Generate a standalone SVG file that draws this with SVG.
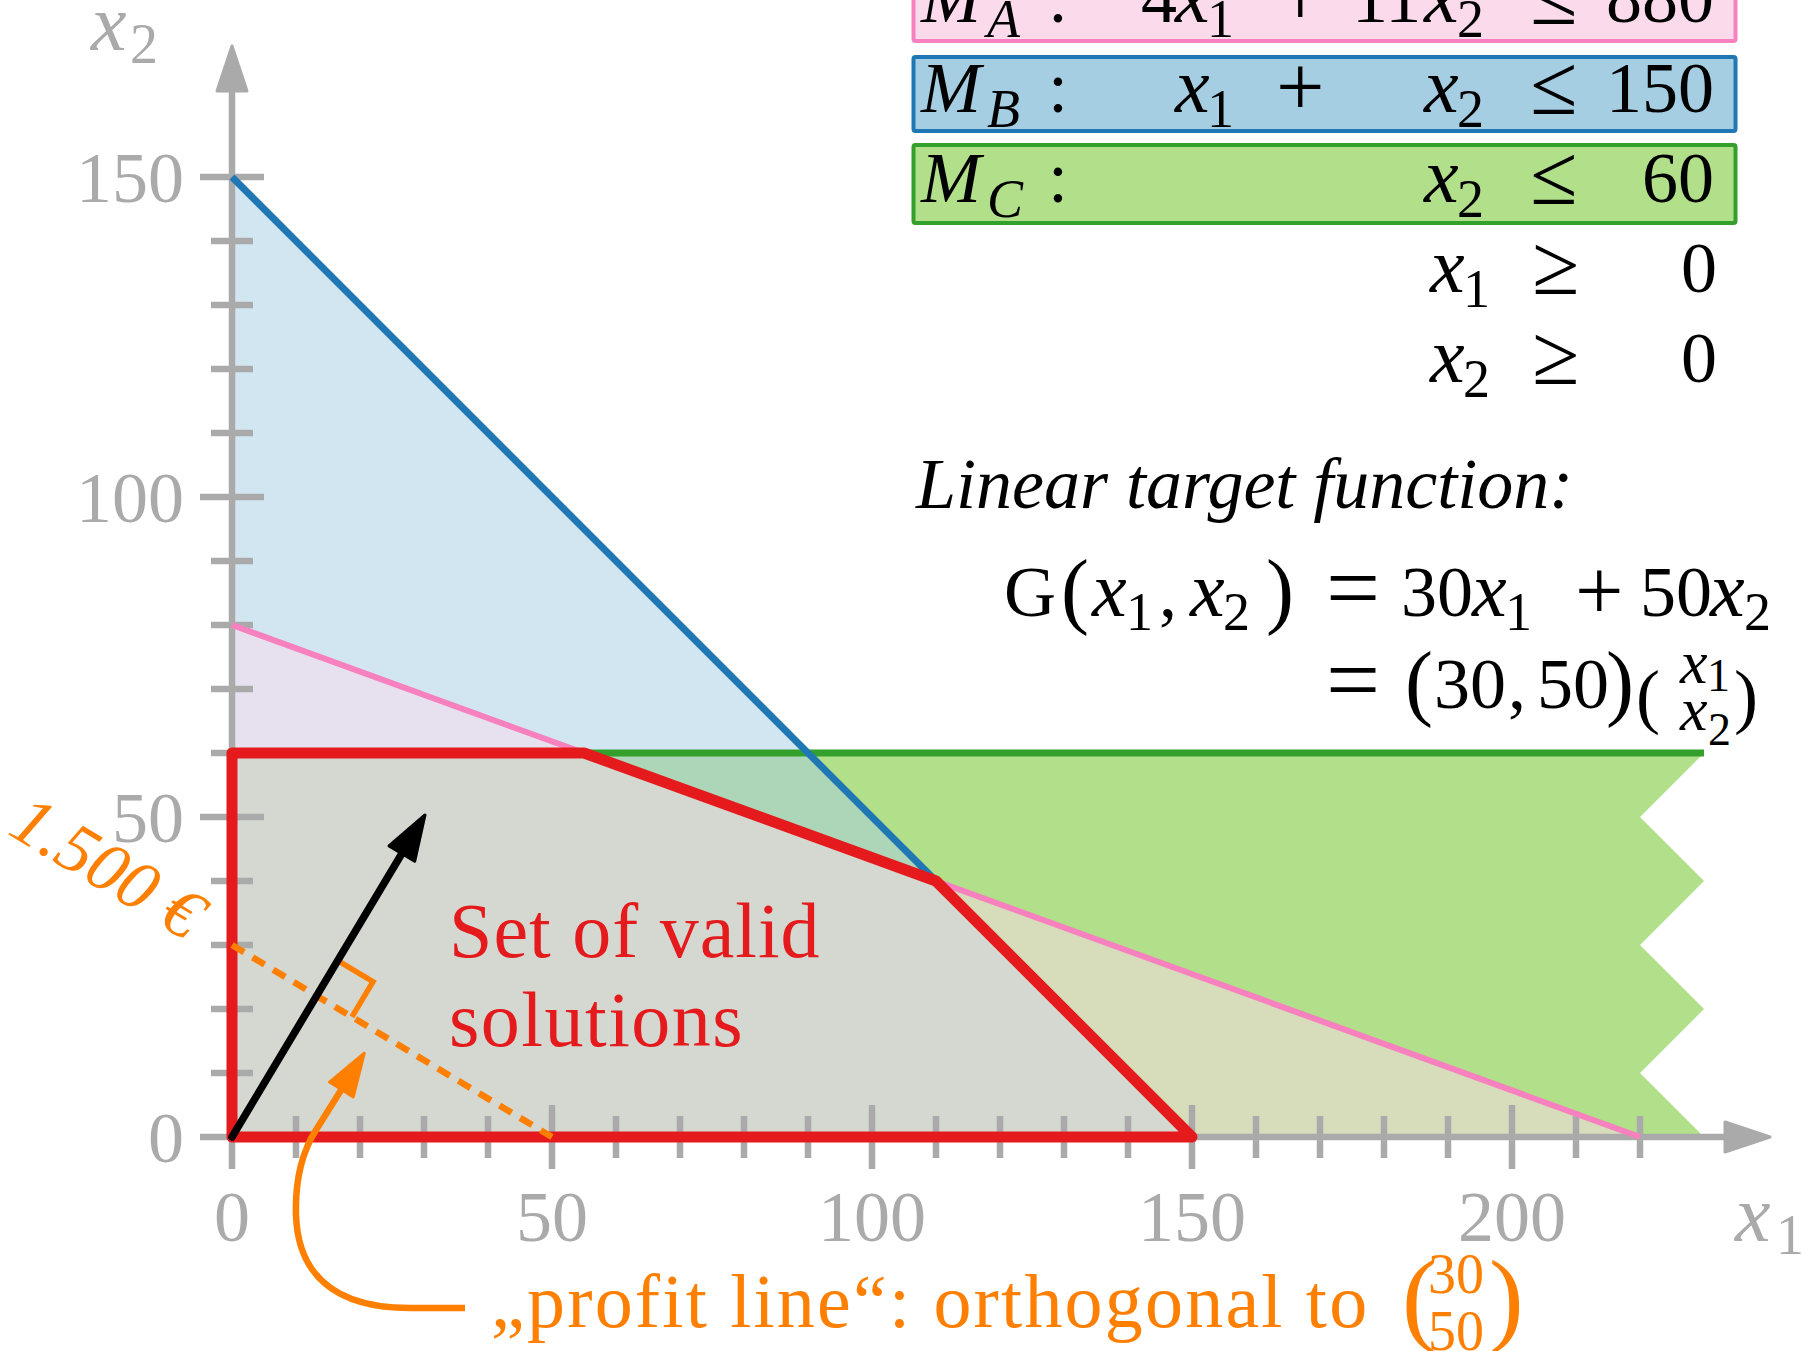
<svg xmlns="http://www.w3.org/2000/svg" width="1802" height="1351" viewBox="0 0 1802 1351">
<style>
.ax{stroke:#aaa;stroke-width:6.5;fill:none}
.gl{font-family:"Liberation Serif",serif;fill:#aaa;font-size:72px}
.m{font-family:"Liberation Serif",serif;font-size:72px;fill:#000}
.i{font-style:italic}
.v{font-style:italic;font-size:78px}
.s{font-size:54px}
.op{font-size:86px}
.or{fill:#ff7f00}
.red{font-family:"Liberation Serif",serif;font-size:78px;fill:#e41a1c}
</style>
<defs>
<marker id="ahGray" viewBox="-3 -18 52 36" refX="3" refY="0" markerWidth="52" markerHeight="36" markerUnits="userSpaceOnUse" orient="auto"><path d="M0,-15 L45,0 L0,15 Z" fill="#aaa" stroke="#aaa" stroke-width="3" stroke-linejoin="round"/></marker>
<marker id="ahBlack" viewBox="-3 -18 52 36" refX="3" refY="0" markerWidth="52" markerHeight="36" markerUnits="userSpaceOnUse" orient="auto"><path d="M0,-15 L45,0 L0,15 Z" fill="#000" stroke="#000" stroke-width="3" stroke-linejoin="round"/></marker>
<marker id="ahOrange" viewBox="-3 -18 52 36" refX="3" refY="0" markerWidth="52" markerHeight="36" markerUnits="userSpaceOnUse" orient="auto"><path d="M0,-14 L43,0 L0,14 Z" fill="#ff7f00" stroke="#ff7f00" stroke-width="3" stroke-linejoin="round"/></marker>
</defs>

<g id="regions">
<polygon id="region-MC" points="232,1137 232,753 1704,753 1640,817 1704,881 1640,945 1704,1009 1640,1073 1704,1137" fill="#b2df8a"/>
<polygon id="region-MB" points="232,1137 232,177 1192,1137" fill="#a6cee3" fill-opacity="0.5"/>
<polygon id="region-MA" points="232,1137 232,625 1640,1137" fill="#fbdaec" fill-opacity="0.5"/>
</g>

<g id="axes">
<path class="ax" d="M232 1137 V88" marker-end="url(#ahGray)"/>
<path class="ax" d="M232 1137 H1728" marker-end="url(#ahGray)"/>
<path class="ax" d="M200 1137H264 M200 817H264 M200 497H264 M200 177H264 M211 1073H253 M211 1009H253 M211 945H253 M211 881H253 M211 753H253 M211 689H253 M211 625H253 M211 561H253 M211 433H253 M211 369H253 M211 305H253 M211 241H253"/>
<path class="ax" d="M232 1105V1169 M552 1105V1169 M872 1105V1169 M1192 1105V1169 M1512 1105V1169 M296 1116V1158 M360 1116V1158 M424 1116V1158 M488 1116V1158 M616 1116V1158 M680 1116V1158 M744 1116V1158 M808 1116V1158 M936 1116V1158 M1000 1116V1158 M1064 1116V1158 M1128 1116V1158 M1256 1116V1158 M1320 1116V1158 M1384 1116V1158 M1448 1116V1158 M1576 1116V1158 M1640 1116V1158"/>
<g id="axis-labels" class="gl">
<text x="184" y="202" text-anchor="end">150</text>
<text x="184" y="522" text-anchor="end">100</text>
<text x="184" y="842" text-anchor="end">50</text>
<text x="184" y="1162" text-anchor="end">0</text>
<text x="232" y="1241" text-anchor="middle">0</text>
<text x="552" y="1241" text-anchor="middle">50</text>
<text x="872" y="1241" text-anchor="middle">100</text>
<text x="1192" y="1241" text-anchor="middle">150</text>
<text x="1512" y="1241" text-anchor="middle">200</text>
<text x="91" y="50"><tspan class="i" font-size="80">x</tspan><tspan x="130" y="63" font-size="56">2</tspan></text>
<text x="1735" y="1241"><tspan class="i" font-size="80">x</tspan><tspan x="1776" y="1254" font-size="56">1</tspan></text>
</g>
</g>

<g id="constraint-lines" fill="none">
<path d="M232 625 L1640 1137" stroke="#f781bf" stroke-width="6"/>
<path d="M232 753 H1704" stroke="#33a02c" stroke-width="7"/>
<path d="M232 177 L1192 1137" stroke="#1f78b4" stroke-width="7"/>
</g>

<g id="feasible-set">
<polygon points="232,1137 232,753 584,753 936,881 1192,1137" fill="none" stroke="#e41a1c" stroke-width="11" stroke-linejoin="round"/>
<text class="red" x="449" y="957" letter-spacing="1">Set of valid</text>
<text class="red" x="449" y="1046" letter-spacing="1.5">solutions</text>
</g>

<g id="connectors" fill="none">
<path id="profit-line" d="M232 945 L552 1137" stroke="#ff7f00" stroke-width="6.5" stroke-dasharray="14 10"/>
<path id="right-angle" d="M337.8 960.6 L373 981.7 L351.9 1016.9" stroke="#ff7f00" stroke-width="5.5"/>
<path id="gradient-arrow" d="M232 1137 L403.4 851" stroke="#000" stroke-width="7.5" stroke-linecap="round" marker-end="url(#ahBlack)"/>
<path id="callout-arrow" d="M465 1308 H410 C335 1308 298 1275 296 1215 C295 1180 302 1152 316 1130 L343 1087" stroke="#ff7f00" stroke-width="6.5" marker-end="url(#ahOrange)"/>
</g>

<g id="profit-labels" font-family="'Liberation Serif', serif" class="or">
<text transform="translate(96,887) rotate(30.96)" text-anchor="middle" font-size="70" font-style="italic">1.500 €</text>
<text x="491" y="1327" font-size="76" letter-spacing="2.2">„profit line“: orthogonal to</text>
<text x="1402" y="1332" font-size="104">(</text>
<text x="1489" y="1332" font-size="104">)</text>
<text x="1428" y="1293" font-size="56">30</text>
<text x="1428" y="1350" font-size="56">50</text>
</g>

<g id="constraint-MA">
<rect x="913.5" y="-35" width="822" height="76" rx="2" fill="#fbdaec" stroke="#f781bf" stroke-width="4"/>
<text class="m" y="22"><tspan class="i" x="921">M</tspan><tspan class="i s" x="987" y="37">A</tspan><tspan x="1048" y="22">:</tspan><tspan x="1141">4</tspan><tspan class="v" x="1175">x</tspan><tspan class="s" x="1207" y="37">1</tspan><tspan class="op" x="1276" y="26">+</tspan><tspan x="1352" y="22">11</tspan><tspan class="v" x="1424">x</tspan><tspan class="s" x="1457" y="37">2</tspan><tspan class="op" x="1530" y="24">≤</tspan><tspan x="1606" y="22">880</tspan></text>
</g>
<g id="constraint-MB">
<rect x="913.5" y="57" width="822" height="74" rx="2" fill="#a6cee3" stroke="#1f78b4" stroke-width="4"/>
<text class="m" y="112"><tspan class="i" x="921">M</tspan><tspan class="i s" x="987" y="127">B</tspan><tspan x="1048" y="112">:</tspan><tspan class="v" x="1175">x</tspan><tspan class="s" x="1207" y="127">1</tspan><tspan class="op" x="1276" y="116">+</tspan><tspan class="v" x="1424" y="112">x</tspan><tspan class="s" x="1457" y="127">2</tspan><tspan class="op" x="1530" y="114">≤</tspan><tspan x="1606" y="112">150</tspan></text>
</g>
<g id="constraint-MC">
<rect x="913.5" y="145" width="822" height="78" rx="2" fill="#b2df8a" stroke="#33a02c" stroke-width="4"/>
<text class="m" y="202"><tspan class="i" x="921">M</tspan><tspan class="i s" x="987" y="217">C</tspan><tspan x="1048" y="202">:</tspan><tspan class="v" x="1424">x</tspan><tspan class="s" x="1457" y="217">2</tspan><tspan class="op" x="1530" y="204">≤</tspan><tspan x="1642" y="202">60</tspan></text>
</g>
<g id="constraint-x1">
<text class="m" y="292"><tspan class="v" x="1430">x</tspan><tspan class="s" x="1463" y="307">1</tspan><tspan class="op" x="1532" y="294">≥</tspan><tspan x="1681" y="292">0</tspan></text>
</g>
<g id="constraint-x2">
<text class="m" y="382"><tspan class="v" x="1430">x</tspan><tspan class="s" x="1463" y="397">2</tspan><tspan class="op" x="1532" y="384">≥</tspan><tspan x="1681" y="382">0</tspan></text>
</g>

<g id="target-function">
<text class="m i" x="916" y="508" font-size="77">Linear target function:</text>
<text class="m" y="616"><tspan x="1004">G</tspan><tspan x="1061" font-size="84" y="618">(</tspan><tspan class="v" x="1092" y="616">x</tspan><tspan class="s" x="1126" y="630">1</tspan><tspan x="1159" y="616">,</tspan><tspan class="v" x="1190">x</tspan><tspan class="s" x="1223" y="630">2</tspan><tspan x="1266" y="618" font-size="84">)</tspan><tspan x="1326" y="620" font-size="96">=</tspan><tspan x="1401" y="616">30</tspan><tspan class="v" x="1472">x</tspan><tspan class="s" x="1505" y="630">1</tspan><tspan class="op" x="1575" y="620">+</tspan><tspan x="1640" y="616">50</tspan><tspan class="v" x="1710">x</tspan><tspan class="s" x="1744" y="630">2</tspan></text>
<text class="m" y="708"><tspan x="1326" y="712" font-size="96">=</tspan><tspan x="1405" font-size="84" y="710">(</tspan><tspan x="1434" y="708">30</tspan><tspan x="1508">,</tspan><tspan x="1537">50</tspan><tspan x="1606" font-size="84" y="710">)</tspan></text>
<text class="m" font-size="112" x="1636" y="720">(</text>
<text class="m" font-size="112" x="1734" y="720">)</text>
<text class="m" y="683"><tspan class="i" x="1680" font-size="62">x</tspan><tspan x="1707" y="691" font-size="46">1</tspan></text>
<text class="m" y="730"><tspan class="i" x="1680" font-size="62">x</tspan><tspan x="1708" y="745" font-size="46">2</tspan></text>
</g>
</svg>
